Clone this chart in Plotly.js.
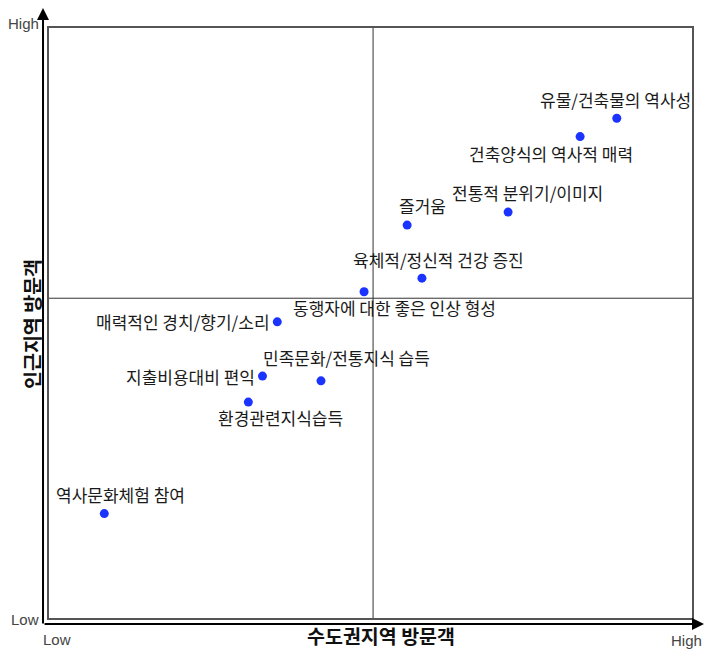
<!DOCTYPE html>
<html>
<head>
<meta charset="utf-8">
<script src="https://cdn.plot.ly/plotly-3.0.1.min.js"></script>
<style>html,body{margin:0;padding:0;background:#fff;}#chart{width:705px;height:650px;}</style>
</head>
<body>
<div id="chart"></div>
<script>
// ---- data ----
var labels = [
  "유물/건축물의 역사성",
  "건축양식의 역사적 매력",
  "전통적 분위기/이미지",
  "즐거움",
  "육체적/정신적 건강 증진",
  "동행자에 대한 좋은 인상 형성",
  "매력적인 경치/향기/소리",
  "민족문화/전통지식 습득",
  "지출비용대비 편익",
  "환경관련지식습득",
  "역사문화체험 참여"
];
var capitalVisitors = [8.83, 8.26, 7.14, 5.57, 5.80, 4.90, 3.55, 4.23, 3.32, 3.10, 0.86];
var nearbyVisitors  = [8.47, 8.16, 6.88, 6.66, 5.76, 5.53, 5.02, 4.02, 4.10, 3.66, 1.77];
var midX = 5.04;
var midY = 5.42;
var xTitle = "수도권지역 방문객";
var yTitle = "인근지역 방문객";
var lowText = "Low", highText = "High";

// ---- label placement (pixel offsets from each point) ----
var labelPlace = [
  {dx: -1,  dy: 19,  anchor: "center"},
  {dx: -29, dy: -17, anchor: "center"},
  {dx: 19,  dy: 20,  anchor: "center"},
  {dx: 15,  dy: 20,  anchor: "center"},
  {dx: 17,  dy: 19,  anchor: "center"},
  {dx: 30,  dy: -16, anchor: "center"},
  {dx: -5,  dy: 0,   anchor: "right"},
  {dx: 26,  dy: 23,  anchor: "center"},
  {dx: -5,  dy: 0,   anchor: "right"},
  {dx: 32,  dy: -15, anchor: "center"},
  {dx: 16,  dy: 19,  anchor: "center"}
];

var labelFont = {family: "Noto Sans CJK KR, sans-serif", size: 17, color: "#1a1a1a"};
var cornerFont = {family: "Liberation Sans, Arial, sans-serif", size: 15, color: "#444"};
var titleFont = {family: "Noto Sans CJK KR, sans-serif", size: 19.5, color: "#111", weight: "bold"};

var trace = {
  type: "scatter",
  mode: "markers",
  x: capitalVisitors,
  y: nearbyVisitors,
  marker: {color: "#1a33ff", size: 9},
  hoverinfo: "skip",
  cliponaxis: false
};

var annotations = labels.map(function (t, i) {
  var p = labelPlace[i];
  return {
    x: capitalVisitors[i], y: nearbyVisitors[i], xref: "x", yref: "y",
    text: t, showarrow: false, font: labelFont,
    xanchor: p.anchor, yanchor: "middle", xshift: p.dx, yshift: p.dy
  };
});

// axis arrows
annotations.push({
  xref: "paper", yref: "paper", axref: "pixel", ayref: "pixel",
  x: -0.0093, y: 1.0339, ax: 0, ay: 617,
  showarrow: true, arrowhead: 2, arrowsize: 1.2, arrowwidth: 2, arrowcolor: "#000", text: ""
});
annotations.push({
  xref: "paper", yref: "paper", axref: "pixel", ayref: "pixel",
  x: 1.0187, y: -0.0102, ax: -661, ay: 0,
  showarrow: true, arrowhead: 2, arrowsize: 1.2, arrowwidth: 2, arrowcolor: "#000", text: ""
});

// corner labels
annotations.push({xref: "paper", yref: "paper", x: -0.0389, y: 1.0068, text: highText, showarrow: false, font: cornerFont, xanchor: "center", yanchor: "middle"});
annotations.push({xref: "paper", yref: "paper", x: -0.037, y: -0.0017, text: lowText, showarrow: false, font: cornerFont, xanchor: "center", yanchor: "middle"});
annotations.push({xref: "paper", yref: "paper", x: 0.0132, y: -0.0356, text: lowText, showarrow: false, font: cornerFont, xanchor: "center", yanchor: "middle"});
annotations.push({xref: "paper", yref: "paper", x: 0.9907, y: -0.0373, text: highText, showarrow: false, font: cornerFont, xanchor: "center", yanchor: "middle"});

// axis titles
annotations.push({xref: "paper", yref: "paper", x: 0.5163, y: -0.0305, text: xTitle, showarrow: false, font: titleFont, xanchor: "center", yanchor: "middle"});
annotations.push({xref: "paper", yref: "paper", x: -0.0280, y: 0.4983, text: yTitle, showarrow: false, font: titleFont, xanchor: "center", yanchor: "middle", textangle: -90});

var layout = {
  width: 705, height: 650,
  margin: {l: 49, r: 13, t: 28, b: 32},
  paper_bgcolor: "#fff", plot_bgcolor: "#fff",
  showlegend: false,
  xaxis: {range: [0, 10], showgrid: false, zeroline: false, showticklabels: false, ticks: "",
          showline: true, mirror: true, linecolor: "#555", linewidth: 2, fixedrange: true},
  yaxis: {range: [0, 10], showgrid: false, zeroline: false, showticklabels: false, ticks: "",
          showline: true, mirror: true, linecolor: "#555", linewidth: 2, fixedrange: true},
  shapes: [
    {type: "line", xref: "x", yref: "paper", x0: midX, x1: midX, y0: 0, y1: 1, line: {color: "#333", width: 1}, layer: "below"},
    {type: "line", xref: "paper", yref: "y", x0: 0, x1: 1, y0: midY, y1: midY, line: {color: "#333", width: 1}, layer: "below"}
  ],
  annotations: annotations
};

Plotly.newPlot("chart", [trace], layout, {displayModeBar: false, staticPlot: true});
</script>
</body>
</html>
